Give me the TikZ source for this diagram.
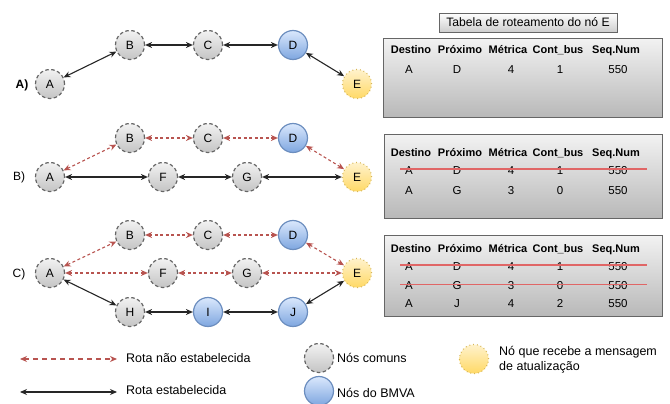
\documentclass[tikz,border=0pt]{standalone}
\usepackage{fontspec}
\setmainfont{Liberation Sans}
\usetikzlibrary{arrows.meta}

\definecolor{greyedge}{HTML}{666666}
\definecolor{greytop}{HTML}{F2F2F2}
\definecolor{greybot}{HTML}{C4C4C4}
\definecolor{blueedge}{HTML}{6C8EBF}
\definecolor{bluetop}{HTML}{DAE8FC}
\definecolor{bluebot}{HTML}{7EA6E0}
\definecolor{yellowedge}{HTML}{D6B656}
\definecolor{yellowtop}{HTML}{FFF2CC}
\definecolor{yellowbot}{HTML}{FFD966}
\definecolor{redroute}{HTML}{B85450}
\definecolor{strikered}{HTML}{E06666}
\definecolor{tabtop}{HTML}{F2F2F2}
\definecolor{tabbot}{HTML}{B8B8B8}

\tikzset{
  base/.style={circle, minimum size=29pt, inner sep=0pt, line width=1.2pt,
    font=\fontsize{12}{14}\selectfont},
  comum/.style={base, draw=greyedge, dash pattern=on 3.5pt off 2.5pt,
    top color=greytop, bottom color=greybot},
  bmva/.style={base, draw=blueedge, top color=bluetop, bottom color=bluebot},
  alvo/.style={base, draw=yellowedge, dash pattern=on 0.8pt off 3pt,
    top color=yellowtop, bottom color=yellowbot},
  ok/.style={{Stealth[length=7pt,width=6pt]}-{Stealth[length=7pt,width=6pt]},
    line width=1.1pt, draw=black!85},
  nok/.style={{Stealth[length=7pt,width=6pt]}-{Stealth[length=7pt,width=6pt]},
    line width=1.1pt, draw=redroute, dash pattern=on 3pt off 2.5pt},
  tabela/.style={draw=greyedge, line width=1pt, top color=tabtop,
    bottom color=tabbot, anchor=north west, inner sep=0pt},
  titulo/.style={draw=greyedge, line width=0.8pt, top color=white,
    bottom color=tabtop!85!black, inner sep=0pt, minimum width=178pt,
    minimum height=19pt, font=\fontsize{12.2}{14}\selectfont},
  cab/.style={font=\fontsize{11}{13}\selectfont\bfseries, inner sep=0pt, anchor=base},
  cel/.style={font=\fontsize{11.5}{13}\selectfont, inner sep=0pt, anchor=base},
  rotulo/.style={font=\fontsize{12}{14}\selectfont, inner sep=0pt},
  legenda/.style={font=\fontsize{12.5}{15}\selectfont, inner sep=0pt, anchor=west},
  risco/.style={draw=strikered, line width=1.1pt},
}

% header row of a routing table, baseline at #2
\newcommand{\tabheader}[2]{%
  \node[cab] (#1d) at (411,#2) {Destino};
  \node[cab] (#1p) at (460,#2) {Próximo};
  \node[cab] (#1m) at (508,#2) {Métrica};
  \node[cab] (#1c) at (558,#2) {Cont\_bus};
  \node[cab] (#1s) at (616,#2) {Seq.Num};
}
% one entry of a routing table, baseline at #2
\newcommand{\tabrow}[7]{%
  \node[cel] (#1a) at (409,#2) {#3};
  \node[cel] (#1b) at (457,#2) {#4};
  \node[cel] (#1c) at (511,#2) {#5};
  \node[cel] (#1d) at (560,#2) {#6};
  \node[cel] (#1e) at (618,#2) {#7};
}

\begin{document}
\begin{tikzpicture}[x=1pt,y=-1pt]
\useasboundingbox (0,0) rectangle (670,404);

% ---------- scenario A ----------
\node[rotulo, font=\fontsize{12}{14}\selectfont\bfseries] (labA) at (22,85) {A)};
\node[comum] (aA) at (50,84) {A};
\node[comum] (aB) at (130,45) {B};
\node[comum] (aC) at (208,45) {C};
\node[bmva]  (aD) at (293,45) {D};
\node[alvo]  (aE) at (357,84) {E};
\draw[ok] (aA) -- (aB);
\draw[ok] (aB) -- (aC);
\draw[ok] (aC) -- (aD);
\draw[ok] (aD) -- (aE);

% ---------- scenario B ----------
\node[rotulo] (labB) at (19,177) {B)};
\node[comum] (bA) at (50,177) {A};
\node[comum] (bB) at (130,138) {B};
\node[comum] (bC) at (208,138) {C};
\node[bmva]  (bD) at (293,138) {D};
\node[comum] (bF) at (163,177) {F};
\node[comum] (bG) at (247,177) {G};
\node[alvo]  (bE) at (357,177) {E};
\draw[nok] (bA) -- (bB);
\draw[nok] (bB) -- (bC);
\draw[nok] (bC) -- (bD);
\draw[nok] (bD) -- (bE);
\draw[ok] (bA) -- (bF);
\draw[ok] (bF) -- (bG);
\draw[ok] (bG) -- (bE);

% ---------- scenario C ----------
\node[rotulo] (labC) at (19,274) {C)};
\node[comum] (cA) at (50,273) {A};
\node[comum] (cB) at (130,235) {B};
\node[comum] (cC) at (208,235) {C};
\node[bmva]  (cD) at (293,235) {D};
\node[comum] (cF) at (163,273) {F};
\node[comum] (cG) at (247,273) {G};
\node[alvo]  (cE) at (357,273) {E};
\node[comum] (cH) at (130,312) {H};
\node[bmva]  (cI) at (208,312) {I};
\node[bmva]  (cJ) at (293,312) {J};
\draw[nok] (cA) -- (cB);
\draw[nok] (cB) -- (cC);
\draw[nok] (cC) -- (cD);
\draw[nok] (cD) -- (cE);
\draw[nok] (cA) -- (cF);
\draw[nok] (cF) -- (cG);
\draw[nok] (cG) -- (cE);
\draw[ok] (cA) -- (cH);
\draw[ok] (cH) -- (cI);
\draw[ok] (cI) -- (cJ);
\draw[ok] (cJ) -- (cE);

% ---------- routing tables of node E ----------
\node[titulo] (tit) at (528,22.5) {Tabela de roteamento do nó E};

\node[tabela, minimum width=279pt, minimum height=79pt] (tabA) at (383,38) {};
\tabheader{hA}{54}
\tabrow{rA1}{74}{A}{D}{4}{1}{550}

\node[tabela, minimum width=278pt, minimum height=84pt] (tabB) at (384,134) {};
\tabheader{hB}{156}
\tabrow{rB1}{174}{A}{D}{4}{1}{550}
\tabrow{rB2}{194}{A}{G}{3}{0}{550}
\draw[risco] (400,169) -- (647,169);

\node[tabela, minimum width=278pt, minimum height=81pt] (tabC) at (384,235) {};
\tabheader{hC}{252}
\tabrow{rC1}{270}{A}{D}{4}{1}{550}
\tabrow{rC2}{289}{A}{G}{3}{0}{550}
\tabrow{rC3}{307}{A}{J}{4}{2}{550}
\draw[risco] (400,265) -- (647,265);
\draw[risco] (400,284.5) -- (647,284.5);

% ---------- legend ----------
\coordinate (l1a) at (20,359);
\coordinate (l1b) at (117,359);
\draw[nok, line width=1.8pt, dash pattern=on 5pt off 4pt] (l1a) -- (l1b);
\node[legenda] (t1) at (126,358) {Rota não estabelecida};

\coordinate (l2a) at (20,392);
\coordinate (l2b) at (117,392);
\draw[ok, line width=2.2pt] (l2a) -- (l2b);
\node[legenda] (t2) at (126,390) {Rota estabelecida};

\node[comum] (lg) at (319,358) {};
\node[legenda] (t3) at (337,358) {Nós comuns};
\node[bmva] (lb) at (319,391) {};
\node[legenda] (t4) at (337,393) {Nós do BMVA};
\node[alvo] (ly) at (474,359) {};
\node[legenda, align=left, font=\fontsize{12.5}{15}\selectfont] (t5) at (499,359.5)
  {Nó que recebe a mensagem\\de atualização};
\end{tikzpicture}
\end{document}
